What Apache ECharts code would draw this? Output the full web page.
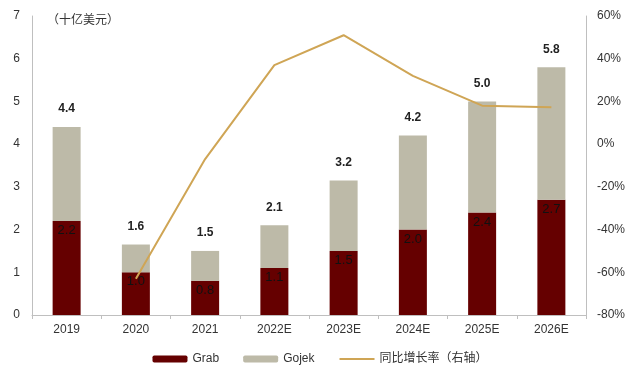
<!DOCTYPE html>
<html>
<head>
<meta charset="utf-8">
<script src="https://cdn.jsdelivr.net/npm/echarts@6/dist/echarts.min.js"></script>
<style>
html, body { margin: 0; padding: 0; background: #fff; }
#chart { width: 640px; height: 376px; }
</style>
</head>
<body>
<div id="chart"></div>
<script>
// 数据（十亿美元）
var years = ['2019', '2020', '2021', '2022E', '2023E', '2024E', '2025E', '2026E'];
var grab = [2.2, 1.0, 0.8, 1.1, 1.5, 2.0, 2.4, 2.7];
var gojek = [2.2, 0.65, 0.7, 1.0, 1.65, 2.2, 2.6, 3.1];
var totals = [4.4, 1.6, 1.5, 2.1, 3.2, 4.2, 5.0, 5.8];
var growth = [null, -63, -7, 37, 51, 32, 18, 17.3];

var chart = echarts.init(document.getElementById('chart'));

var axisText = { color: '#333', fontSize: 12, fontFamily: 'Liberation Sans, Arial' };

chart.setOption({
    animation: false,
    textStyle: { fontFamily: 'Liberation Sans, Noto Sans CJK SC' },
    grid: { left: 32, right: 54, top: 16, bottom: 61 },
    legend: {
        bottom: 6,
        left: 'center',
        itemWidth: 35,
        itemHeight: 7,
        itemGap: 24,
        textStyle: { color: '#333', fontSize: 12, fontFamily: 'Liberation Sans, Noto Sans CJK SC' },
        data: ['Grab', 'Gojek', { name: '同比增长率（右轴）', itemStyle: { opacity: 0 } }]
    },
    graphic: [{
        type: 'text',
        left: 47,
        top: 13,
        style: { text: '（十亿美元）', fill: '#333', fontSize: 12, fontFamily: 'Noto Sans CJK SC' }
    }],
    xAxis: {
        type: 'category',
        data: years,
        axisLine: { lineStyle: { color: '#bfbfbf' } },
        axisTick: { show: true, length: 4, lineStyle: { color: '#bfbfbf' } },
        axisLabel: Object.assign({ margin: 9 }, axisText)
    },
    yAxis: [{
        type: 'value',
        min: 0,
        max: 7,
        interval: 1,
        axisLine: { show: true, lineStyle: { color: '#bfbfbf' } },
        axisTick: { show: false },
        splitLine: { show: false },
        axisLabel: Object.assign({ margin: 12 }, axisText)
    }, {
        type: 'value',
        min: -80,
        max: 60,
        interval: 20,
        axisLine: { show: true, lineStyle: { color: '#bfbfbf' } },
        axisTick: { show: false },
        splitLine: { show: false },
        axisLabel: Object.assign({ margin: 11, formatter: '{value}%' }, axisText)
    }],
    series: [{
        name: 'Grab',
        type: 'bar',
        stack: 'total',
        barWidth: 28,
        data: grab,
        itemStyle: { color: '#650000' },
        label: {
            show: true,
            position: 'insideTop',
            distance: 3,
            color: '#111',
            fontSize: 13,
            fontFamily: 'Liberation Sans',
            formatter: function (p) { return p.value.toFixed(1); }
        }
    }, {
        name: 'Gojek',
        type: 'bar',
        stack: 'total',
        barWidth: 28,
        data: gojek,
        itemStyle: { color: '#BDBAA8' },
        label: {
            show: true,
            position: 'top',
            distance: 12,
            color: '#222',
            fontSize: 12,
            fontWeight: 'bold',
            fontFamily: 'Liberation Sans',
            formatter: function (p) { return totals[p.dataIndex].toFixed(1); }
        }
    }, {
        name: '同比增长率（右轴）',
        type: 'line',
        yAxisIndex: 1,
        data: growth,
        symbol: 'none',
        connectNulls: false,
        lineStyle: { color: '#CFA555', width: 2 },
        itemStyle: { color: '#CFA555' },
        z: 5
    }]
});
</script>
</body>
</html>
